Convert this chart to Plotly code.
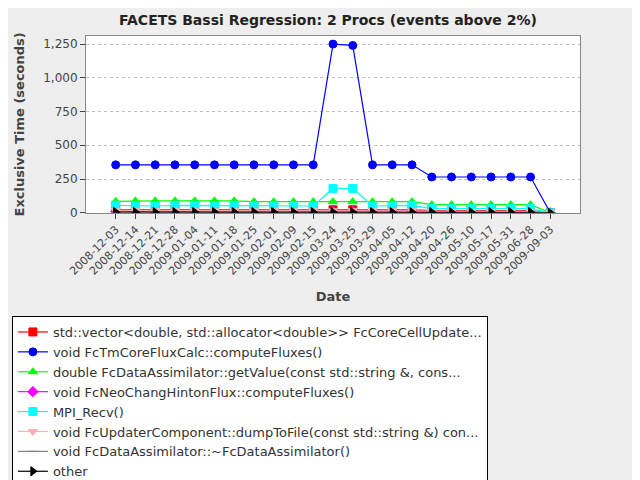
import plotly.graph_objects as go

dates = ["2008-12-03","2008-12-14","2008-12-21","2008-12-28","2009-01-04","2009-01-11","2009-01-18",
         "2009-01-25","2009-02-01","2009-02-09","2009-02-15","2009-03-24","2009-03-25","2009-03-29",
         "2009-04-05","2009-04-12","2009-04-20","2009-04-26","2009-05-10","2009-05-17","2009-05-31",
         "2009-06-28","2009-09-03"]

vec_update = [22,22,24,22,24,24,24,22,22,22,22,22,22,22,22,22,15,15,15,15,15,15,0]
tm_flux = [355]*11 + [1250,1240,355,355,355] + [265]*6 + [0]
get_value = [85,88,88,88,88,88,88,82,82,82,82,82,82,82,82,82,60,60,60,60,60,60,0]
neo_flux = [10,10,12,10,12,12,12,10,10,10,10,10,10,10,10,10,5,5,5,5,5,5,0]
mpi_recv = [55,50,50,55,55,50,55,50,50,50,50,180,180,50,50,55,30,30,30,30,30,30,0]
dump_file = [15,15,15,15,15,15,15,15,15,15,15,15,15,15,15,15,10,10,10,10,10,10,0]
destructor = [8,8,8,8,8,8,8,8,8,8,8,8,8,8,8,8,5,5,5,5,5,5,0]
other = [5]*22 + [0]

series = [
    ("std::vector<double, std::allocator<double>> FcCoreCellUpdate...", vec_update, "#ff0000", "square"),
    ("void FcTmCoreFluxCalc::computeFluxes()", tm_flux, "#0000ff", "circle"),
    ("double FcDataAssimilator::getValue(const std::string &, cons...", get_value, "#00ff00", "triangle-up"),
    ("void FcNeoChangHintonFlux::computeFluxes()", neo_flux, "#ff00ff", "diamond"),
    ("MPI_Recv()", mpi_recv, "#00ffff", "square"),
    ("void FcUpdaterComponent::dumpToFile(const std::string &) con...", dump_file, "#ffafaf", "triangle-down"),
    ("void FcDataAssimilator::~FcDataAssimilator()", destructor, "#808080", "line-ew-open"),
    ("other", other, "#000000", "triangle-right"),
]

fig = go.Figure()
for name, vals, col, sym in series:
    fig.add_trace(go.Scatter(x=dates, y=vals, name=name, mode="lines+markers",
                             line=dict(color=col, width=1.2),
                             marker=dict(color=col, symbol=sym, size=8, line=dict(color=col, width=1))))

fig.update_layout(
    width=640, height=480,
    paper_bgcolor="#eeeeee", plot_bgcolor="white",
    font=dict(family="DejaVu Sans", size=12, color="#444444"),
    title=dict(text="<b>FACETS Bassi Regression: 2 Procs (events above 2%)</b>", x=0.5, y=0.985,
               font=dict(size=14, color="#222222")),
    margin=dict(l=78, r=68, t=28, b=0),
    xaxis=dict(type="category", tickangle=-45, title=dict(text="<b>Date</b>", font=dict(size=13)),
               showgrid=False, showline=True, linecolor="#888888", mirror=True, ticks="outside",
               tickfont=dict(size=11), anchor="y", automargin=False),
    yaxis=dict(domain=[0.571, 1], range=[0, 1310], tickvals=[0,250,500,750,1000,1250],
               tickformat=",", title=dict(text="<b>Exclusive Time (seconds)</b>", font=dict(size=13)),
               showgrid=True, gridcolor="#c0c0c0", griddash="dot", showline=True, linecolor="#888888",
               mirror=True, zeroline=False, ticks="outside", automargin=False),
    legend=dict(x=-0.15, y=0.32, xanchor="left", yanchor="top", orientation="h",
                bgcolor="white", bordercolor="black", borderwidth=1,
                font=dict(size=13, color="#333333"), itemwidth=30, tracegroupgap=0),
)
fig.write_html("out.html")
